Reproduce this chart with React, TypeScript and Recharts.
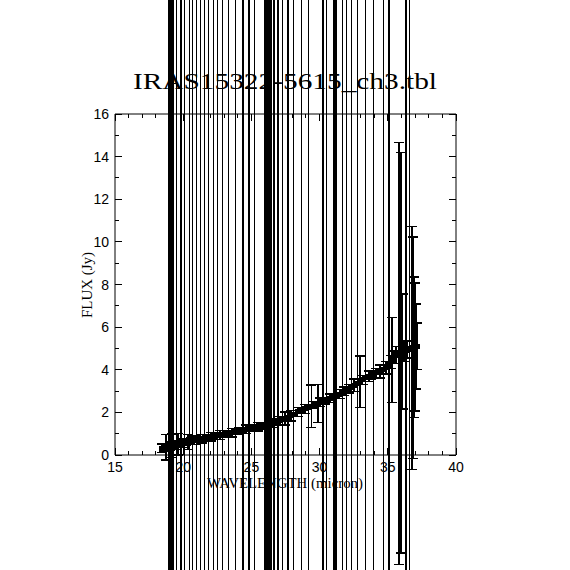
import { ScatterChart, Scatter, XAxis, YAxis } from "recharts";

// IRS LH spectrum: wavelength (micron), flux (Jy), 1-sigma flux error (Jy)
const wavelength = [
  18.48, 18.62, 18.75, 18.88, 18.96, 19.04, 19.11, 19.18, 19.25, 19.38,
  19.51, 19.62, 19.73, 19.84, 19.97, 20.1, 20.22, 20.34, 20.46, 20.57,
  20.68, 20.83, 20.98, 21.12, 21.27, 21.41, 21.56, 21.7, 21.85, 22.04,
  22.22, 22.36, 22.51, 22.7, 22.88, 23.1, 23.32, 23.58, 23.83, 24.1,
  24.38, 24.6, 24.82, 25.02, 25.23, 25.45, 25.7, 26.0, 26.11, 26.22,
  26.33, 26.44, 26.55, 26.66, 26.8, 26.95, 27.12, 27.28, 27.48, 27.68,
  27.88, 28.09, 28.38, 28.67, 28.93, 29.19, 29.4, 29.62, 29.88, 30.05,
  30.25, 30.38, 30.51, 30.78, 31.02, 31.13, 31.24, 31.46, 31.68, 31.82,
  31.97, 32.15, 32.34, 32.55, 32.78, 32.98, 33.15, 33.37, 33.6, 33.8,
  33.95, 34.15, 34.4, 34.69, 34.88, 35.09, 35.2, 35.3, 35.45, 35.62,
  35.85, 35.95, 36.08, 36.2, 36.33, 36.45, 36.59, 36.75, 36.82, 36.92,
  37.0, 37.08, 37.15,
];

const flux = [
  0.32, 0.34, 0.36, 0.38, 0.4, 0.41, 0.42, 0.43, 0.44, 0.46,
  0.48, 0.5, 0.52, 0.54, 0.56, 0.58, 0.6, 0.62, 0.64, 0.65,
  0.66, 0.69, 0.72, 0.73, 0.75, 0.77, 0.78, 0.8, 0.83, 0.85,
  0.87, 0.89, 0.91, 0.94, 0.96, 0.99, 1.02, 1.05, 1.08, 1.12,
  1.17, 1.2, 1.24, 1.27, 1.3, 1.32, 1.35, 1.4, 1.42, 1.44,
  1.46, 1.48, 1.5, 1.52, 1.55, 1.58, 1.62, 1.66, 1.71, 1.76,
  1.85, 1.92, 2.02, 2.1, 2.16, 2.22, 2.28, 2.36, 2.42, 2.47,
  2.52, 2.55, 2.58, 2.66, 2.72, 2.75, 2.78, 2.86, 2.94, 2.99,
  3.04, 3.1, 3.18, 3.27, 3.36, 3.44, 3.52, 3.62, 3.7, 3.76,
  3.8, 3.85, 3.92, 4.02, 4.1, 4.25, 4.37, 4.46, 4.58, 4.68,
  4.77, 4.8, 4.85, 4.88, 4.92, 4.95, 4.98, 5.02, 5.03, 5.05,
  5.07, 5.09, 5.1,
];

const fluxErr = [
  0.2, 0.15, 0.6, 0.15, 60, 0.2, 60, 0.55, 60, 0.2,
  60, 0.5, 0.15, 60, 0.2, 60, 0.15, 0.35, 60, 0.15,
  60, 0.2, 60, 0.15, 60, 0.2, 60, 0.15, 60, 0.2,
  60, 0.15, 60, 0.2, 60, 0.15, 60, 0.2, 60, 0.15,
  60, 0.2, 60, 0.15, 60, 0.2, 0.15, 60, 60, 60,
  60, 60, 0.2, 60, 0.15, 60, 0.2, 60, 0.3, 60,
  0.25, 60, 0.2, 60, 0.2, 60, 1.0, 0.15, 0.9, 0.2,
  60, 0.15, 60, 0.2, 60, 60, 60, 0.2, 60, 0.2,
  60, 0.2, 60, 0.3, 60, 1.2, 0.2, 60, 0.25, 0.2,
  60, 0.2, 0.3, 60, 0.3, 60, 0.3, 2.0, 0.3, 0.4,
  9.9, 9.4, 2.7, 0.5, 60, 0.4, 60, 5.7, 5.2, 3.3,
  3.0, 2.0, 1.1,
];

const xTicks = [
  15, 16, 17, 18, 19, 20, 21, 22, 23, 24, 25, 26, 27, 28, 29, 30, 31, 32, 33,
  34, 35, 36, 37, 38, 39, 40,
];
const yTicks = [0, 1, 2, 3, 4, 5, 6, 7, 8, 9, 10, 11, 12, 13, 14, 15, 16];

const W = 570;
const H = 570;
const MARGIN = { top: 94, right: 94, bottom: 95, left: 95 };
const AXIS = 20;
const Y_DOMAIN: [number, number] = [0, 16];
const PLOT_H = H - MARGIN.top - MARGIN.bottom - 2 * AXIS;
const PX_PER_JY = PLOT_H / (Y_DOMAIN[1] - Y_DOMAIN[0]);
const CAP = 5;
const TICK_FONT = "'Liberation Sans', Arial, sans-serif";
const LABEL_FONT = "'Liberation Serif', 'DejaVu Serif', serif";

const data = wavelength.map((w, i) => ({ w, f: flux[i], e: fluxErr[i] }));

// error bar drawn around the point, not clipped to the plot box
function ErrPoint(props: any) {
  const { cx, cy, payload } = props;
  const d = payload.e * PX_PER_JY;
  return (
    <g stroke="#000" strokeWidth={1.4} shapeRendering="crispEdges">
      <line x1={cx} x2={cx} y1={cy - d} y2={cy + d} strokeWidth={1.8} />
      <line x1={cx - CAP} x2={cx + CAP} y1={cy - d} y2={cy - d} />
      <line x1={cx - CAP} x2={cx + CAP} y1={cy + d} y2={cy + d} />
      <rect x={cx - 3} y={cy - 2.5} width={6} height={5} fill="#000" stroke="none" />
    </g>
  );
}

function BottomTick({ x, y, payload }: any) {
  const major = payload.value % 5 === 0;
  return (
    <g>
      <line x1={x} x2={x} y1={y} y2={y - (major ? 7 : 4)} stroke="#000" shapeRendering="crispEdges" />
      {major && (
        <text x={x} y={y + 17} textAnchor="middle" fontSize={14} fontFamily={TICK_FONT} fill="#000">
          {payload.value}
        </text>
      )}
    </g>
  );
}

function TopTick({ x, y, payload }: any) {
  const major = payload.value % 5 === 0;
  return <line x1={x} x2={x} y1={y} y2={y + (major ? 7 : 4)} stroke="#000" shapeRendering="crispEdges" />;
}

function LeftTick({ x, y, payload }: any) {
  const major = payload.value % 2 === 0;
  return (
    <g>
      <line x1={x} x2={x + (major ? 7 : 4)} y1={y} y2={y} stroke="#000" shapeRendering="crispEdges" />
      {major && (
        <text x={x - 6} y={y + 5} textAnchor="end" fontSize={14} fontFamily={TICK_FONT} fill="#000">
          {payload.value}
        </text>
      )}
    </g>
  );
}

function RightTick({ x, y, payload }: any) {
  const major = payload.value % 2 === 0;
  return <line x1={x} x2={x - (major ? 7 : 4)} y1={y} y2={y} stroke="#000" shapeRendering="crispEdges" />;
}

export default function App() {
  return (
    <div style={{ position: "absolute", left: 0, top: 0, width: W, height: H, background: "#fff" }}>
      <svg width={W} height={H} style={{ position: "absolute", left: 0, top: 0 }}>
        <text
          x={285}
          y={89}
          textAnchor="middle"
          fontSize={24}
          fontFamily={LABEL_FONT}
          textLength={304}
          lengthAdjust="spacingAndGlyphs"
          fill="#000"
        >
          IRAS15322-5615_ch3.tbl
        </text>
        <text
          x={285}
          y={488}
          textAnchor="middle"
          fontSize={14}
          fontFamily={LABEL_FONT}
          textLength={156}
          lengthAdjust="spacingAndGlyphs"
          fill="#000"
        >
          WAVELENGTH (micron)
        </text>
        <text
          x={0}
          y={0}
          transform="translate(92,285) rotate(-90)"
          textAnchor="middle"
          fontSize={14}
          fontFamily={LABEL_FONT}
          textLength={66}
          lengthAdjust="spacingAndGlyphs"
          fill="#000"
        >
          FLUX (Jy)
        </text>
      </svg>
      <div style={{ position: "absolute", left: 0, top: 0 }}>
        <ScatterChart width={W} height={H} margin={MARGIN} style={{ overflow: "visible" }}>
          <XAxis
            xAxisId="bottom"
            type="number"
            dataKey="w"
            domain={[15, 40]}
            ticks={xTicks}
            interval={0}
            height={AXIS}
            tickSize={0}
            tickMargin={0}
            tickLine={false}
            axisLine={{ stroke: "#000" }}
            tick={<BottomTick />}
          />
          <XAxis
            xAxisId="top"
            orientation="top"
            type="number"
            dataKey="w"
            domain={[15, 40]}
            ticks={xTicks}
            interval={0}
            height={AXIS}
            tickSize={0}
            tickMargin={0}
            tickLine={false}
            axisLine={{ stroke: "#000" }}
            tick={<TopTick />}
          />
          <YAxis
            yAxisId="left"
            type="number"
            dataKey="f"
            domain={Y_DOMAIN}
            ticks={yTicks}
            interval={0}
            width={AXIS}
            tickSize={0}
            tickMargin={0}
            tickLine={false}
            axisLine={{ stroke: "#000" }}
            tick={<LeftTick />}
          />
          <YAxis
            yAxisId="right"
            orientation="right"
            type="number"
            dataKey="f"
            domain={Y_DOMAIN}
            ticks={yTicks}
            interval={0}
            width={AXIS}
            tickSize={0}
            tickMargin={0}
            tickLine={false}
            axisLine={{ stroke: "#000" }}
            tick={<RightTick />}
          />
          <Scatter
            xAxisId="top"
            yAxisId="right"
            data={data}
            shape={() => <g />}
            isAnimationActive={false}
          />
          <Scatter
            xAxisId="bottom"
            yAxisId="left"
            data={data}
            shape={ErrPoint}
            line={{ stroke: "#000", strokeWidth: 2 }}
            lineType="joint"
            isAnimationActive={false}
          />
        </ScatterChart>
      </div>
    </div>
  );
}
